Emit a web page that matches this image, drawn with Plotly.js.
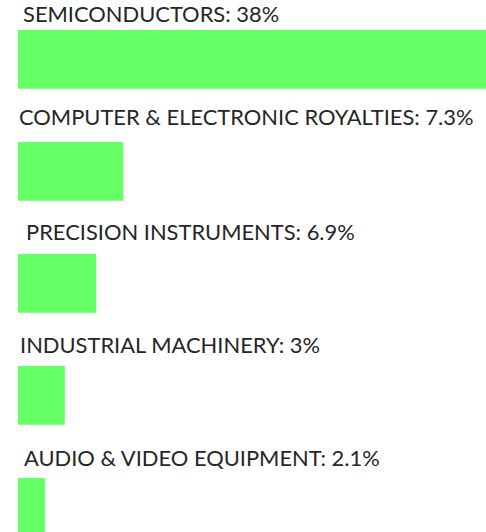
<!DOCTYPE html>
<html>
<head>
<meta charset="utf-8">
<script src="https://cdn.plot.ly/plotly-3.0.1.min.js"></script>
<style>html,body{margin:0;padding:0;background:#fff;}#chart{width:486px;height:532px;}</style>
</head>
<body>
<div id="chart"></div>
<script>
// ---- data ----
var categories = ["SEMICONDUCTORS", "COMPUTER & ELECTRONIC ROYALTIES", "PRECISION INSTRUMENTS", "INDUSTRIAL MACHINERY", "AUDIO & VIDEO EQUIPMENT"];
var shareLabels = ["38%", "7.3%", "6.9%", "3%", "2.1%"];
var barLengths = [38, 8.55, 6.35, 3.8, 2.2];

// ---- style / layout ----
var labelXShift = [3, -1, 6, 0, 4];
var labelYShift = [46, 55, 52, 50.5, 50];

var idx = categories.map(function (c, i) { return i; });

var trace = {
  type: 'bar',
  orientation: 'h',
  x: barLengths,
  y: idx,
  width: 0.525,
  marker: { color: '#66FF66', line: { width: 0 } },
  hoverinfo: 'none'
};

var annotations = categories.map(function (c, i) {
  return {
    xref: 'paper', yref: 'y',
    x: 0, y: i,
    xanchor: 'left', yanchor: 'middle',
    xshift: labelXShift[i], yshift: labelYShift[i],
    text: c + ': ' + shareLabels[i],
    showarrow: false,
    font: { family: 'Lato, sans-serif', size: 21.9, color: '#262626' }
  };
});

var layout = {
  width: 486, height: 532,
  margin: { l: 18, r: 0, t: 0, b: 0, pad: 0 },
  paper_bgcolor: '#ffffff', plot_bgcolor: '#ffffff',
  showlegend: false,
  xaxis: { range: [0, 38], showgrid: false, zeroline: false, showticklabels: false, showline: false, ticks: '', fixedrange: true },
  yaxis: { range: [4.2205, -0.5295], showgrid: false, zeroline: false, showticklabels: false, showline: false, ticks: '', fixedrange: true },
  annotations: annotations
};

Plotly.newPlot('chart', [trace], layout, { displayModeBar: false, staticPlot: true });
</script>
</body>
</html>
